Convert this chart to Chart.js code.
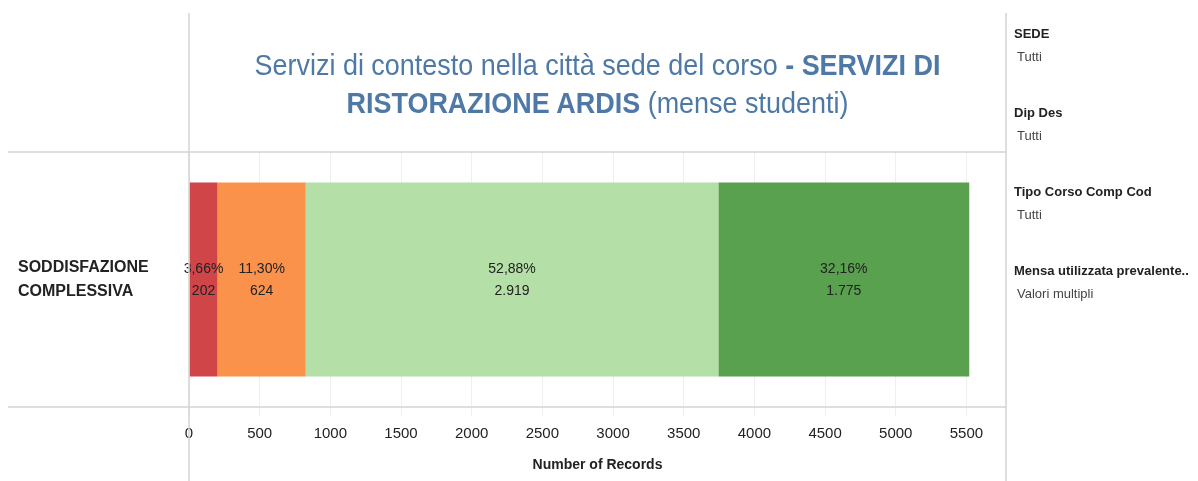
<!DOCTYPE html>
<html>
<head>
<meta charset="utf-8">
<script src="https://cdn.jsdelivr.net/npm/chart.js@4.4.1/dist/chart.umd.min.js"></script>
<style>
  html, body { margin: 0; padding: 0; background: #fff; }
  #wrap { position: relative; width: 1198px; height: 481px; overflow: hidden; }
  #chart { position: absolute; left: 0; top: 0; }
  .title {
    position: absolute; left: 189px; width: 817px; top: 46px;
    text-align: center; color: #4e79a7;
    font-family: "Liberation Sans", Arial, sans-serif;
    font-size: 29px; line-height: 38px;
    transform: scaleX(0.93); transform-origin: 50% 50%;
  }
  .title b { font-weight: bold; }
  .filters {
    position: absolute; left: 1014px; top: 25px; width: 184px;
    font-family: "Liberation Sans", sans-serif;
    font-size: 13px; color: #222;
  }
  .filters .h { font-weight: bold; height: 23px; line-height: 18px; white-space: nowrap; }
  .filters .v { padding-left: 3px; color: #444; height: 56px; line-height: 18px; white-space: nowrap; }
</style>
</head>
<body>
<div id="wrap">
  <canvas id="chart" width="1198" height="481"></canvas>
  <div class="title">Servizi di contesto nella città sede del corso <b>- SERVIZI DI<br>RISTORAZIONE ARDIS</b> (mense studenti)</div>
  <div class="filters">
    <div class="h">SEDE</div><div class="v">Tutti</div>
    <div class="h">Dip Des</div><div class="v">Tutti</div>
    <div class="h">Tipo Corso Comp Cod</div><div class="v">Tutti</div>
    <div class="h">Mensa utilizzata prevalente..</div><div class="v">Valori multipli</div>
  </div>
</div>
<script>
const categories = [['SODDISFAZIONE', 'COMPLESSIVA']];
const levels = ['1', '2', '3', '4'];
const values = [202, 624, 2919, 1775];
const colors = ['#d04548', '#fb924c', '#b4dfa7', '#59a04f'];
const xTicks = [0, 500, 1000, 1500, 2000, 2500, 3000, 3500, 4000, 4500, 5000, 5500];

const total = values.reduce((a, b) => a + b, 0);
const fmtInt = n => String(n).replace(/\B(?=(\d{3})+(?!\d))/g, '.');
const fmtPct = n => (n / total * 100).toFixed(2).replace('.', ',') + '%';

const font = '"Liberation Sans", Arial, sans-serif';

// two-line labels in the middle of each segment
const segmentLabels = {
  id: 'segmentLabels',
  afterDatasetsDraw(chart) {
    const ctx = chart.ctx;
    ctx.save();
    ctx.fillStyle = '#222';
    ctx.font = '14px ' + font;
    ctx.textAlign = 'center';
    ctx.textBaseline = 'middle';
    chart.data.datasets.forEach((ds, i) => {
      const bar = chart.getDatasetMeta(i).data[0];
      const cx = (bar.x + bar.base) / 2;
      ctx.fillText(fmtPct(ds.data[0]), cx, bar.y - 10);
      ctx.fillText(fmtInt(ds.data[0]), cx, bar.y + 12);
    });
    ctx.restore();
  }
};

// tableau-ish pane dividers
const frame = {
  id: 'frame',
  afterDraw(chart) {
    const { ctx, chartArea: a } = chart;
    ctx.save();
    ctx.strokeStyle = '#d3d3d3';
    ctx.lineWidth = 1.5;
    ctx.beginPath();
    ctx.moveTo(a.left, 13); ctx.lineTo(a.left, 481);
    ctx.moveTo(a.right, 13); ctx.lineTo(a.right, 481);
    ctx.moveTo(8, a.top); ctx.lineTo(a.right, a.top);
    ctx.moveTo(8, a.bottom); ctx.lineTo(a.right, a.bottom);
    ctx.stroke();
    ctx.restore();
  }
};

new Chart(document.getElementById('chart'), {
  type: 'bar',
  data: {
    labels: categories,
    datasets: levels.map((lv, i) => ({
      label: lv,
      data: [values[i]],
      backgroundColor: colors[i],
      borderWidth: 0,
      barPercentage: 0.76,
      categoryPercentage: 1
    }))
  },
  options: {
    indexAxis: 'y',
    responsive: false,
    animation: false,
    layout: { padding: { left: 18, right: 192, top: 152, bottom: 0 } },
    plugins: {
      legend: { display: false },
      tooltip: { enabled: false }
    },
    scales: {
      x: {
        stacked: true,
        min: 0,
        max: 5780,
        border: { display: false },
        grid: { color: '#efefef', lineWidth: 1, tickLength: 9, tickColor: '#efefef' },
        afterBuildTicks(scale) { scale.ticks = xTicks.map(v => ({ value: v })); },
        ticks: {
          autoSkip: false,
          maxRotation: 0,
          padding: 9,
          color: '#222',
          font: { family: font, size: 15 },
          callback: v => String(v)
        },
        title: {
          display: true,
          text: 'Number of Records',
          color: '#222',
          font: { family: font, size: 14, weight: 'bold' },
          padding: { top: 0, bottom: 7 }
        },
        afterFit(scale) { scale.height = 74; }
      },
      y: {
        stacked: true,
        border: { display: false },
        grid: { display: false },
        ticks: {
          crossAlign: 'far',
          color: '#222',
          font: { family: font, size: 16, weight: 'bold', lineHeight: 1.55 }
        },
        afterFit(scale) { scale.width = 171; }
      }
    }
  },
  plugins: [segmentLabels, frame]
});
</script>
</body>
</html>
